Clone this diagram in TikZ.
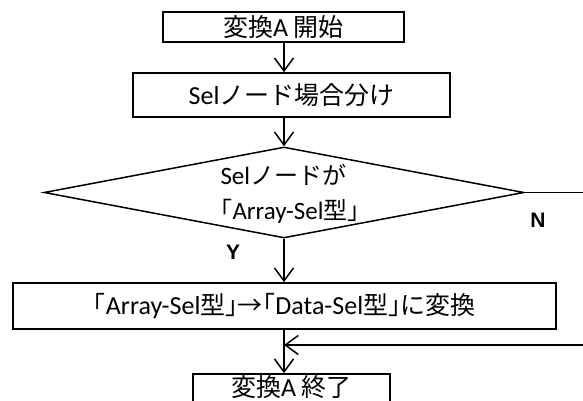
\documentclass[tikz,border=0pt]{standalone}
\usepackage{fontspec}
\setmainfont{Carlito}
\newfontfamily\jpfont[Scale=0.96]{Noto Sans CJK JP}
\newfontfamily\jpbrfont[Scale=0.96,RawFeature=+halt]{Noto Sans CJK JP}
\newfontfamily\lblfont{Liberation Sans}
\newcommand\J[1]{{\jpfont #1}}
\newcommand\Lb{{\jpbrfont 「}}
\newcommand\Rb{{\jpbrfont 」}}
\usetikzlibrary{shapes.geometric,arrows.meta,calc}
\tikzset{
  flowline/.style={line width=1.5pt, draw=black},
  flowarrow/.style={flowline, -{Straight Barb[length=13pt,width=19pt,line width=1.5pt]}},
  procbox/.style={draw=black, line width=1.6pt, rectangle, inner sep=0pt,
    font=\fontsize{26}{35}\selectfont},
  decbox/.style={draw=black, line width=1.5pt, diamond, inner sep=0pt},
  dectext/.style={align=left, inner sep=0pt, font=\fontsize{25}{35}\selectfont},
  yn/.style={inner sep=0pt, font=\lblfont\bfseries\fontsize{21}{23}\selectfont},
}
\begin{document}
\begin{tikzpicture}[x=1pt, y=-1pt]
  \useasboundingbox (0,0) rectangle (583,401);

  \node[procbox, minimum width=241pt, minimum height=30pt] (start) at (283.5,27) {\J{変換}A \J{開始}};
  \node[procbox, minimum width=317pt, minimum height=44pt] (sel) at (291.5,95) {Sel\J{ノード場合分け}};
  \node[decbox, minimum width=480pt, minimum height=91pt] (dec) at (284,192.5) {};
  \node[dectext] (dectxt) at (290,194) {Sel\J{ノードが}\\\Lb Array-Sel\J{型}\Rb};
  \node[procbox, minimum width=543pt, minimum height=46pt] (conv) at (284.5,306) {\Lb Array-Sel\J{型}\Rb\J{→}\Lb Data-Sel\J{型}\Rb\J{に変換}};
  % last step: its lower edge runs below the page
  \node[procbox, minimum width=197pt, minimum height=30pt, text height=20pt, text depth=6pt] (finish) at (291.5,389) {\J{変換}A \J{終了}};

  \node[yn] (ylbl) at (233,252) {Y};
  \node[yn] (nlbl) at (538,220) {N};

  % main flow
  \draw[flowarrow] (dec.north |- start.south) -- (dec.north |- sel.north);
  \draw[flowarrow] (dec.north |- sel.south) -- (dec.north);
  \draw[flowarrow] (dec.south) -- (dec.south |- conv.north);
  \draw[flowarrow] (dec.south |- conv.south) -- (dec.south |- finish.north);

  % "N" branch returning below the conversion step
  \coordinate (nright) at (590,192.5);
  \coordinate (join) at ($(dec.south |- conv.south)!0.35!(dec.south |- finish.north)$);
  \draw[flowline] (dec.east) -- (nright) -- (nright |- join);
  \draw[flowarrow] (nright |- join) -- (join);
\end{tikzpicture}
\end{document}
